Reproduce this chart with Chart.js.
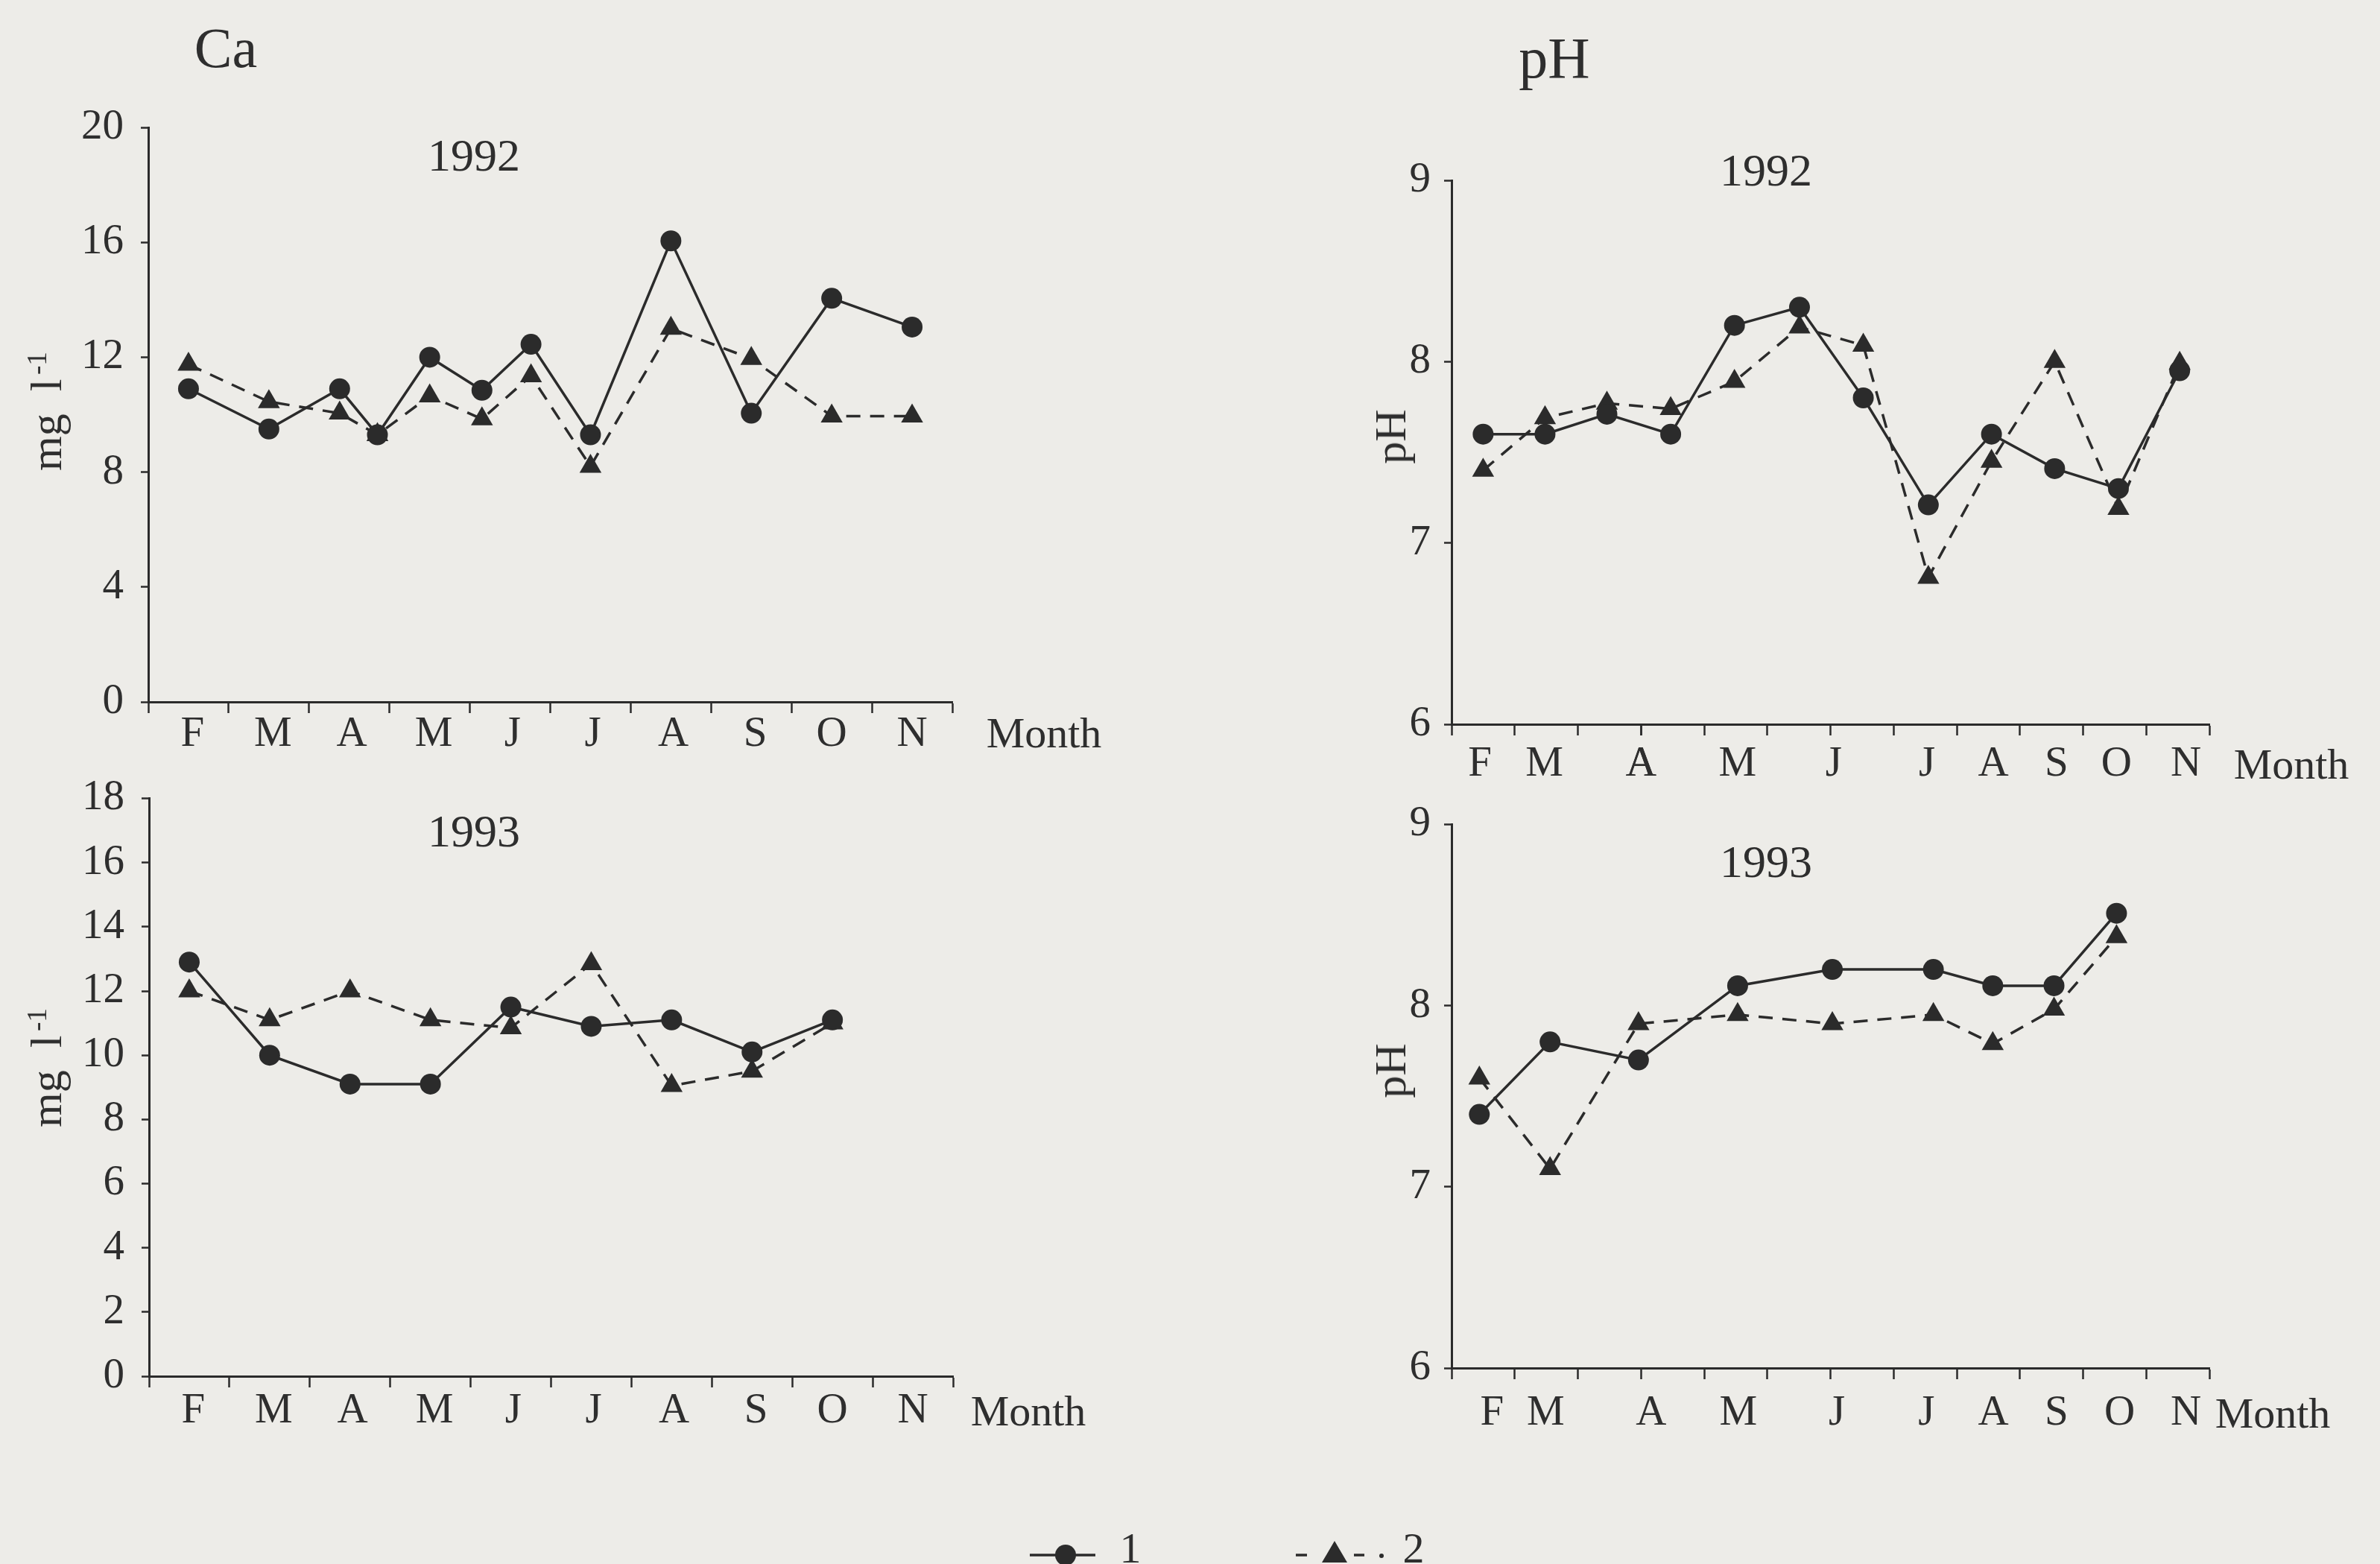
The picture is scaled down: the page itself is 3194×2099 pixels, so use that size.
<!DOCTYPE html>
<html>
<head>
<meta charset="utf-8">
<script src="https://cdn.jsdelivr.net/npm/chart.js@4.4.1/dist/chart.umd.min.js"></script>
<style>
  body { margin: 0; width: 3194px; height: 2099px; overflow: hidden; background: #edece8; position: relative; }
  canvas { position: absolute; }
  .t { position: absolute; transform: translate(-50%, -50%); line-height: 1; white-space: nowrap;
       font-family: 'Liberation Serif', 'Times New Roman', serif; color: #2e2e2e; font-size: 57px; }
  .rot { transform: translate(-50%, -50%) rotate(-90deg); }
  .sup { font-size: 0.62em; position: relative; top: -0.55em; margin-left: 0.15em; }
  #legend { position: absolute; left: 0; top: 0; }
</style>
</head>
<body>

<canvas id="ca92" width="1300" height="960" style="left:0px;top:110px"></canvas>
<canvas id="ca93" width="1300" height="960" style="left:0px;top:1020px"></canvas>
<canvas id="ph92" width="1240" height="900" style="left:1760px;top:180px"></canvas>
<canvas id="ph93" width="1240" height="920" style="left:1760px;top:1060px"></canvas>

<!-- textos -->
<div class="t" style="left:303px;top:64px;font-size:76px">Ca</div>
<div class="t" style="left:2086px;top:78px;font-size:78px">pH</div>

<div class="t" style="left:636px;top:208px;font-size:62px">1992</div>
<div class="t" style="left:636px;top:1115px;font-size:62px">1993</div>
<div class="t" style="left:2370px;top:228px;font-size:62px">1992</div>
<div class="t" style="left:2370px;top:1156px;font-size:62px">1993</div>

<div class="t rot" style="left:62px;top:552px;font-size:60px">mg&nbsp;&nbsp;l<span class="sup">-1</span></div>
<div class="t rot" style="left:62px;top:1433px;font-size:60px">mg&nbsp;&nbsp;l<span class="sup">-1</span></div>
<div class="t rot" style="left:1866px;top:586px;font-size:60px">pH</div>
<div class="t rot" style="left:1866px;top:1437px;font-size:60px">pH</div>

<div class="t" style="left:1401px;top:984px;font-size:58px">Month</div>
<div class="t" style="left:1380px;top:1894px;font-size:58px">Month</div>
<div class="t" style="left:3075px;top:1026px;font-size:58px">Month</div>
<div class="t" style="left:3050px;top:1897px;font-size:58px">Month</div>

<!-- legenda -->
<svg id="legend" width="3194" height="2099">
  <line x1="1382" y1="2087" x2="1470" y2="2087" stroke="#2b2b2b" stroke-width="3.5"/>
  <circle cx="1430" cy="2087" r="14" fill="#2b2b2b"/>
  <text x="1517" y="2097" font-family="Liberation Serif" font-size="58" fill="#2e2e2e" text-anchor="middle">1</text>
  <line x1="1739" y1="2087" x2="1754" y2="2087" stroke="#2b2b2b" stroke-width="3.5"/>
  <polygon points="1791,2068 1808,2097 1774,2097" fill="#2b2b2b"/>
  <line x1="1817" y1="2087" x2="1831" y2="2087" stroke="#2b2b2b" stroke-width="3.5"/>
  <circle cx="1854" cy="2088" r="3" fill="#2b2b2b"/>
  <text x="1897" y="2097" font-family="Liberation Serif" font-size="58" fill="#2e2e2e" text-anchor="middle">2</text>
</svg>

<script>
// dados -------------------------------------------------------------------------
const months = ['F', 'M', 'A', 'M', 'J', 'J', 'A', 'S', 'O', 'N'];

// Ca: eixo x de 0 a 10, um mes por intervalo
const caMonthPos = [0.55, 1.55, 2.53, 3.55, 4.53, 5.53, 6.53, 7.55, 8.5, 9.5];
const caTicks92 = [0, 4, 8, 12, 16, 20];
const caTicks93 = [0, 2, 4, 6, 8, 10, 12, 14, 16, 18];

const ca92X  = [0.5, 1.5, 2.38, 2.85, 3.5, 4.15, 4.76, 5.5, 6.5, 7.5, 8.5, 9.5];
const ca92S1 = [10.9, 9.5, 10.9, 9.3, 12.0, 10.85, 12.45, 9.3, 16.05, 10.05, 14.05, 13.05];
const ca92S2 = [11.75, 10.45, 10.05, 9.3, 10.65, 9.85, 11.35, 8.2, 13.0, 11.95, 9.95, 9.95];

const ca93X  = [0.5, 1.5, 2.5, 3.5, 4.5, 5.5, 6.5, 7.5, 8.5];
const ca93S1 = [12.9, 10.0, 9.1, 9.1, 11.5, 10.9, 11.1, 10.1, 11.1];
const ca93S2 = [12.0, 11.1, 12.0, 11.1, 10.85, 12.85, 9.05, 9.5, 11.0];

// pH: eixo x de 0 a 12, meses em posicoes irregulares
const phTicks = [6, 7, 8, 9];
const ph92MonthPos = [0.45, 1.47, 3.0, 4.53, 6.05, 7.53, 8.58, 9.58, 10.53, 11.63];
const ph93MonthPos = [0.64, 1.49, 3.16, 4.54, 6.1, 7.52, 8.58, 9.58, 10.58, 11.63];

const ph92X  = [0.5, 1.48, 2.46, 3.47, 4.48, 5.51, 6.52, 7.55, 8.55, 9.55, 10.56, 11.53];
const ph92S1 = [7.60, 7.60, 7.71, 7.60, 8.20, 8.30, 7.80, 7.21, 7.60, 7.41, 7.30, 7.95];
const ph92S2 = [7.40, 7.69, 7.77, 7.74, 7.89, 8.19, 8.09, 6.81, 7.45, 8.00, 7.19, 7.99];

const ph93X  = [0.44, 1.56, 2.96, 4.53, 6.03, 7.63, 8.57, 9.54, 10.53];
const ph93S1 = [7.40, 7.80, 7.70, 8.11, 8.20, 8.20, 8.11, 8.11, 8.51];
const ph93S2 = [7.60, 7.10, 7.90, 7.95, 7.90, 7.95, 7.79, 7.98, 8.38];
//---------------------------------------------------------------------------------

const ink = '#2b2b2b';
const txt = '#2e2e2e';
const serif = "'Liberation Serif', 'Times New Roman', serif";

function painel(id, o) {
  const ctx = document.getElementById(id).getContext('2d');
  return new Chart(ctx, {
    type: 'line',
    data: {
      datasets: [{
        label: '1',
        data: o.x.map((v, i) => ({ x: v, y: o.s1[i] })),
        borderColor: ink, borderWidth: 3.5,
        pointStyle: 'circle', pointRadius: 14,
        pointBackgroundColor: ink, pointBorderColor: ink, pointBorderWidth: 0
      }, {
        label: '2',
        data: o.x.map((v, i) => ({ x: v, y: o.s2[i] })),
        borderColor: ink, borderWidth: 3.5, borderDash: [19, 13],
        pointStyle: 'triangle', pointRadius: 17,
        pointBackgroundColor: ink, pointBorderColor: ink, pointBorderWidth: 0
      }]
    },
    options: {
      responsive: false,
      animation: false,
      layout: { padding: { top: o.padTop, right: o.padRight, bottom: 0, left: 0 } },
      plugins: { legend: { display: false }, tooltip: { enabled: false } },
      scales: {
        x: {
          type: 'linear', min: 0, max: o.nInt,
          // marcas nos limites inteiros + posicoes dos rotulos dos meses
          afterBuildTicks: s => {
            const t = [];
            for (let i = 0; i <= o.nInt; i++) t.push({ value: i });
            o.mpos.forEach(v => t.push({ value: v }));
            t.sort((a, b) => a.value - b.value);
            s.ticks = t;
          },
          afterFit: s => { s.height = o.xh; },
          border: { color: ink, width: 3 },
          grid: {
            drawOnChartArea: false, tickLength: 15, tickWidth: 2.5,
            tickColor: c => (c.tick && Number.isInteger(c.tick.value)) ? ink : 'rgba(0,0,0,0)'
          },
          ticks: {
            autoSkip: false, maxRotation: 0, minRotation: 0, padding: o.xpad, color: txt,
            font: { family: serif, size: 57, lineHeight: 1 },
            callback: v => { const i = o.mpos.indexOf(v); return i < 0 ? '' : months[i]; }
          }
        },
        y: {
          min: o.yt[0], max: o.yt[o.yt.length - 1],
          afterBuildTicks: s => { s.ticks = o.yt.map(v => ({ value: v })); },
          afterFit: s => { s.width = o.yw; },
          border: { color: ink, width: 3 },
          grid: { drawOnChartArea: false, tickLength: 10, tickWidth: 2.5, tickColor: ink },
          ticks: {
            padding: o.ypad, color: txt,
            font: { family: serif, size: 57, lineHeight: 1 }
          }
        }
      }
    }
  });
}

painel('ca92', { x: ca92X, s1: ca92S1, s2: ca92S2, yt: caTicks92, mpos: caMonthPos, nInt: 10,
  padTop: 61, padRight: 22, yw: 199, xh: 128, xpad: 1, ypad: 23 });
painel('ca93', { x: ca93X, s1: ca93S1, s2: ca93S2, yt: caTicks93, mpos: caMonthPos, nInt: 10,
  padTop: 48, padRight: 21, yw: 200, xh: 133, xpad: 4, ypad: 23 });
painel('ph92', { x: ph92X, s1: ph92S1, s2: ph92S2, yt: phTicks, mpos: ph92MonthPos, nInt: 12,
  padTop: 62, padRight: 35, yw: 188, xh: 108, xpad: 11, ypad: 18 });
painel('ph93', { x: ph93X, s1: ph93S1, s2: ph93S2, yt: phTicks, mpos: ph93MonthPos, nInt: 12,
  padTop: 41, padRight: 35, yw: 188, xh: 144, xpad: 18, ypad: 18 });
</script>
</body>
</html>
